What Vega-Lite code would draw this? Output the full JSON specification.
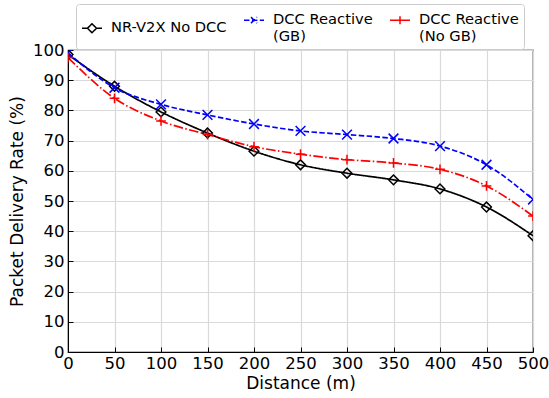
{
  "$schema": "https://vega.github.io/schema/vega-lite/v6.json",
  "width": 465,
  "height": 302,
  "autosize": {"type": "none"},
  "padding": {"left": 68, "top": 50, "right": 16, "bottom": 46},
  "background": "white",
  "config": {
    "font": "DejaVu Sans",
    "view": {"stroke": "black", "strokeWidth": 1.2},
    "axis": {
      "labelFont": "DejaVu Sans",
      "titleFont": "DejaVu Sans",
      "labelFontSize": 16.5,
      "titleFontSize": 17,
      "titleFontWeight": "normal",
      "labelColor": "black",
      "titleColor": "black",
      "domainColor": "black",
      "tickColor": "black",
      "tickSize": -5,
      "gridColor": "#d9d9d9",
      "gridWidth": 1.2
    }
  },
  "data": {
    "values": [
      {"distance": 0, "series": "NR-V2X No DCC", "rate": 98.5},
      {"distance": 50, "series": "NR-V2X No DCC", "rate": 88},
      {"distance": 100, "series": "NR-V2X No DCC", "rate": 79.5},
      {"distance": 150, "series": "NR-V2X No DCC", "rate": 72.5},
      {"distance": 200, "series": "NR-V2X No DCC", "rate": 66.5},
      {"distance": 250, "series": "NR-V2X No DCC", "rate": 62},
      {"distance": 300, "series": "NR-V2X No DCC", "rate": 59.2},
      {"distance": 350, "series": "NR-V2X No DCC", "rate": 57},
      {"distance": 400, "series": "NR-V2X No DCC", "rate": 54},
      {"distance": 450, "series": "NR-V2X No DCC", "rate": 48},
      {"distance": 500, "series": "NR-V2X No DCC", "rate": 38.5},
      {"distance": 0, "series": "DCC Reactive (GB)", "rate": 99},
      {"distance": 50, "series": "DCC Reactive (GB)", "rate": 87.5},
      {"distance": 100, "series": "DCC Reactive (GB)", "rate": 82},
      {"distance": 150, "series": "DCC Reactive (GB)", "rate": 78.5},
      {"distance": 200, "series": "DCC Reactive (GB)", "rate": 75.5},
      {"distance": 250, "series": "DCC Reactive (GB)", "rate": 73.2},
      {"distance": 300, "series": "DCC Reactive (GB)", "rate": 72},
      {"distance": 350, "series": "DCC Reactive (GB)", "rate": 70.7},
      {"distance": 400, "series": "DCC Reactive (GB)", "rate": 68.2},
      {"distance": 450, "series": "DCC Reactive (GB)", "rate": 62},
      {"distance": 500, "series": "DCC Reactive (GB)", "rate": 50.5},
      {"distance": 0, "series": "DCC Reactive (No GB)", "rate": 97.5},
      {"distance": 50, "series": "DCC Reactive (No GB)", "rate": 84},
      {"distance": 100, "series": "DCC Reactive (No GB)", "rate": 76.5},
      {"distance": 150, "series": "DCC Reactive (No GB)", "rate": 72},
      {"distance": 200, "series": "DCC Reactive (No GB)", "rate": 68},
      {"distance": 250, "series": "DCC Reactive (No GB)", "rate": 65.5},
      {"distance": 300, "series": "DCC Reactive (No GB)", "rate": 63.7},
      {"distance": 350, "series": "DCC Reactive (No GB)", "rate": 62.6},
      {"distance": 400, "series": "DCC Reactive (No GB)", "rate": 60.5},
      {"distance": 450, "series": "DCC Reactive (No GB)", "rate": 55},
      {"distance": 500, "series": "DCC Reactive (No GB)", "rate": 45}
    ]
  },
  "encoding": {
    "x": {
      "field": "distance", "type": "quantitative",
      "scale": {"domain": [0, 500], "nice": false, "zero": false},
      "axis": {"values": [0, 50, 100, 150, 200, 250, 300, 350, 400, 450, 500], "title": "Distance (m)", "labelPadding": 8, "titlePadding": 4, "labelFlush": false}
    },
    "y": {
      "field": "rate", "type": "quantitative",
      "scale": {"domain": [0, 100], "nice": false},
      "axis": {"values": [0, 10, 20, 30, 40, 50, 60, 70, 80, 90, 100], "title": "Packet Delivery Rate (%)", "labelPadding": 9, "titlePadding": 6}
    }
  },
  "resolve": {"scale": {"shape": "independent"}},
  "layer": [
    {
      "mark": {"type": "line", "interpolate": "monotone", "strokeWidth": 1.7, "clip": true},
      "encoding": {
        "color": {"field": "series", "type": "nominal", "legend": null,
          "scale": {"domain": ["NR-V2X No DCC", "DCC Reactive (GB)", "DCC Reactive (No GB)"], "range": ["black", "blue", "red"]}},
        "strokeDash": {"field": "series", "type": "nominal", "legend": null,
          "scale": {"domain": ["NR-V2X No DCC", "DCC Reactive (GB)", "DCC Reactive (No GB)"], "range": [[1, 0], [5.5, 2.4], [9.6, 2.4, 1.5, 2.4]]}}
      }
    },
    {
      "mark": {"type": "point", "filled": false, "strokeWidth": 1.5, "size": 95, "opacity": 1, "clip": true},
      "encoding": {
        "color": {"field": "series", "type": "nominal", "legend": null},
        "shape": {"field": "series", "type": "nominal", "legend": null,
          "scale": {"domain": ["NR-V2X No DCC", "DCC Reactive (GB)", "DCC Reactive (No GB)"], "range": ["diamond", "M-1,-1L1,1M-1,1L1,-1", "M-1,0L1,0M0,-1L0,1"]}}
      }
    },
    {
      "mark": {"type": "point", "filled": false, "opacity": 0, "size": 1},
      "encoding": {
        "shape": {"field": "series", "type": "nominal",
          "scale": {"domain": ["NR-V2X No DCC", "DCC Reactive (GB)", "DCC Reactive (No GB)"], "range": ["M-1,0L-0.45,0M0.45,0L1,0M0,-0.45L0.45,0L0,0.45L-0.45,0Z", "M-1,0L1,0M-0.3,-0.3L0.3,0.3M-0.3,0.3L0.3,-0.3", "M-1,0L1,0M0,-0.4L0,0.4"]},
          "legend": {
            "orient": "none", "legendX": 8, "legendY": -46,
            "direction": "horizontal", "columns": 3, "title": null,
            "symbolSize": 400, "symbolStrokeWidth": 1.5, "symbolOpacity": 1,
            "symbolFillColor": "transparent",
            "labelFont": "DejaVu Sans", "labelFontSize": 14.7, "labelColor": "black", "labelLimit": 300,
            "labelOffset": 8, "columnPadding": 14,
            "labelExpr": "datum.value == 'DCC Reactive (GB)' ? ['DCC Reactive', '(GB)'] : datum.value == 'DCC Reactive (No GB)' ? ['DCC Reactive', '(No GB)'] : datum.value",
            "strokeColor": "#cccccc", "cornerRadius": 3, "padding": 5, "fillColor": "white",
            "encoding": {
              "symbols": {
                "stroke": {"value": {"expr": "datum.value == 'NR-V2X No DCC' ? 'black' : datum.value == 'DCC Reactive (GB)' ? 'blue' : 'red'"}},
                "strokeDash": {"value": {"expr": "datum.value == 'DCC Reactive (GB)' ? [5.5,2.4] : [1,0]"}}
              },
              "labels": {"lineHeight": {"value": 17}}
            }
          }
        }
      }
    }
  ]
}
